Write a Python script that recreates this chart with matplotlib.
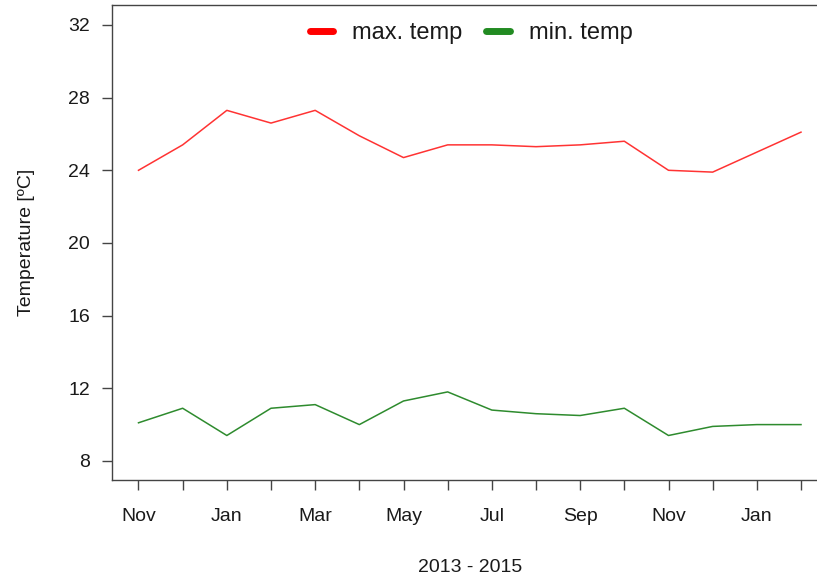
import matplotlib.pyplot as plt

plt.rcParams['font.family'] = ['Liberation Sans Narrow', 'Liberation Sans', 'DejaVu Sans']

months = ['Nov', 'Dec', 'Jan', 'Feb', 'Mar', 'Apr', 'May', 'Jun',
          'Jul', 'Aug', 'Sep', 'Oct', 'Nov', 'Dec', 'Jan', 'Feb']
max_temp = [24.0, 25.4, 27.3, 26.6, 27.3, 25.9, 24.7, 25.4,
            25.4, 25.3, 25.4, 25.6, 24.0, 23.9, 25.0, 26.1]
min_temp = [10.1, 10.9, 9.4, 10.9, 11.1, 10.0, 11.3, 11.8,
            10.8, 10.6, 10.5, 10.9, 9.4, 9.9, 10.0, 10.0]
y_ticks = [8, 12, 16, 20, 24, 28, 32]

txt = '#1a1a1a'
fig = plt.figure(figsize=(8.17, 5.79), dpi=100)
# right edge of the box falls outside the picture, as in the original
ax = fig.add_axes([112 / 817, 1 - 480 / 579, (827.5 - 112) / 817, 475 / 579])

x = list(range(len(months)))
ax.plot(x, max_temp, color='#ff3333', lw=1.1, label='max. temp')
ax.plot(x, min_temp, color='#2e8b2e', lw=1.1, label='min. temp')

ax.set_xlim(-0.6, len(months) - 1 + 0.6)
ax.set_ylim(6.95, 33.1)
ax.set_xticks(x)
ax.set_xticklabels([m if i % 2 == 0 else '' for i, m in enumerate(months)])
ax.set_yticks(y_ticks)
ax.tick_params(axis='both', direction='out', length=7, width=1, color='#444444',
               labelsize=14, labelcolor=txt)
ax.tick_params(axis='x', pad=13)
ax.tick_params(axis='y', pad=9)
for s in ax.spines.values():
    s.set_color('#444444')
    s.set_linewidth(1)

ax.set_xlabel('2013 - 2015', fontsize=14, color=txt, labelpad=25)
ax.set_ylabel('Temperature [ºC]', fontsize=14, color=txt, labelpad=24)

leg = fig.legend(loc='center', bbox_to_anchor=(471 / 817, 1 - 33 / 579), ncol=2,
                 frameon=False, fontsize=17, handlelength=1.0, handletextpad=0.8,
                 columnspacing=1.0)
for h in leg.legend_handles:
    h.set_linewidth(5)
    h.set_solid_capstyle('round')
for t in leg.get_texts():
    t.set_color(txt)
leg.legend_handles[0].set_color('#ff0000')
leg.legend_handles[1].set_color('#228b22')

fig.savefig('out.png', dpi=100)
